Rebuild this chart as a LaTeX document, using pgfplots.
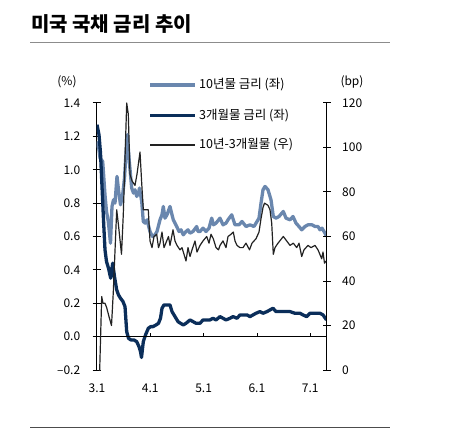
\documentclass[border=0pt]{standalone}
\usepackage{pgfplots}
\pgfplotsset{compat=1.18}
\usepackage{pgfplotstable}
\usepackage{fontspec}
\setmainfont{Noto Sans CJK KR}
\definecolor{lblue}{HTML}{6A87AE}
\definecolor{navy}{HTML}{0B2E5A}
\definecolor{spreadc}{HTML}{222222}

\pgfplotstableread{
x y
97 1.17
99 1.12
100 1.07
102.7 1.05
105 0.85
106.5 0.75
108.3 0.69
110.5 0.56
112 0.78
113.5 0.82
115 0.80
117 0.96
118.5 0.88
120.5 0.79
122.5 0.84
124.5 0.95
126 1.10
127.3 1.21
129.3 1.05
131.7 0.89
133.5 0.86
135 0.88
136.7 0.84
138.5 0.86
139.5 0.89
141.7 0.81
143.3 0.69
145 0.68
147 0.70
150 0.63
152.5 0.60
155 0.61
157 0.63
160 0.70
162 0.73
163.3 0.78
165 0.71
167 0.73
170 0.78
172 0.73
173.3 0.70
176.7 0.66
179 0.63
181 0.64
183.3 0.61
186 0.63
188 0.64
190 0.62
193 0.63
196.7 0.66
198 0.63
200 0.63
203 0.65
206 0.63
209 0.65
211.7 0.71
213.5 0.67
216 0.68
220 0.71
223 0.67
226 0.68
228 0.70
231.7 0.73
235 0.67
239 0.67
242 0.69
246 0.66
250 0.67
254 0.66
257 0.69
259 0.71
261 0.80
263 0.88
265 0.90
268 0.88
271 0.82
273.3 0.72
276 0.71
279 0.72
283.3 0.75
286 0.71
290 0.70
293 0.72
296 0.68
299 0.66
301.7 0.64
305 0.66
308 0.67
312 0.67
315 0.66
318 0.66
320 0.64
322 0.65
325 0.62
326.5 0.60
}\tenyr

\pgfplotstableread{
x y
97 1.27
99 1.21
100.5 1.10
102 0.90
103.5 0.70
105 0.52
106.5 0.45
108.5 0.41
110.7 0.35
112.7 0.44
114.5 0.36
116.7 0.28
118.5 0.25
120.5 0.23
123 0.21
125 0.18
126.7 0.03
128.5 -0.01
131 -0.02
134 -0.02
136.7 -0.03
139 -0.06
140.5 -0.09
141.5 -0.125
143.3 -0.03
145.5 0.01
148.3 0.05
150.7 0.06
153 0.06
156 0.07
158.5 0.08
160.5 0.11
162 0.17
164 0.19
167 0.19
170 0.19
172 0.15
175 0.12
178 0.09
180.5 0.08
183.3 0.07
186 0.08
190 0.10
193 0.09
196 0.08
200 0.08
203 0.10
206 0.10
210 0.10
213 0.11
216 0.10
220 0.12
223 0.11
226 0.10
230 0.11
233 0.12
237 0.11
240 0.13
243 0.13
247 0.13
250 0.12
253 0.13
256 0.14
260 0.15
263 0.14
267 0.15
270 0.16
273 0.17
276 0.15
280 0.15
285 0.15
290 0.15
295 0.14
300 0.14
303 0.13
306.7 0.12
310 0.14
315 0.14
320 0.14
323 0.13
326.5 0.10
}\threemo

\pgfplotstableread{
x y
97 -10
99.5 -3
101.7 33
103 30
105 30
106.7 28
109 24
111.5 20
113.3 35
116.7 72
118.5 65
121.5 52
123.3 70
125 95
126.7 120
128.3 115
130 88
132 85
135 83
137 88
140 98
141.7 84
143.3 72
146 72
148.3 72
150 58
152 55
154 60
156.7 61
158.5 55
160 57
162 62
164 55
166.7 58
168.5 60
170 56
173 63
175 58
177 56
180 54
182 55
184 52
186 49
188 55
190 51
192 54
195 58
197 53
200 56
203 58
206.7 60
209 57
211 61
213.3 59
216 55
218.5 54
220 56
223 58
226 55
228 60
231 61
233.3 62
235 58
237 56
240 55
243 55
246 57
249.5 54
252 57
256 59
259 62
261 68
263 73
264.5 75
268 74
270 72
271.7 66
273.3 52
275 55
278 57
283.3 60
286.7 58
290 56
293.3 57
296.7 55
299 57
301.7 51
304 54
308 56
311 55
315 56
318 54
321.7 50
323 53
324.5 48
326 49
}\spreadtab

\begin{document}
\begin{tikzpicture}[x=1pt,y=1pt]
\path[use as bounding box] (0,0) rectangle (454,431);

\pgfplotsset{every axis/.append style={
  scale only axis, width=230pt, height=267pt,
  at={(96.7pt,61pt)}, anchor=south west,
  xmin=96.7, xmax=326.7,
  tick align=center, major tick length=8pt,
  axis line style={line width=1pt, -},
  every tick/.style={black, line width=1pt},
  tick label style={font=\fontsize{12}{14}\selectfont},
  /pgf/number format/assume math mode=true,
}}

\begin{axis}[
  ymin=-0.2, ymax=1.4,
  axis y line*=left, axis x line*=bottom,
  x axis line style={draw=none},
  xtick={97,150.3,203.6,256.9,310.2},
  xticklabels={\mbox{3.1},\mbox{4.1},\mbox{5.1},\mbox{6.1},\mbox{7.1}},
  major x tick style={draw=none},
  xticklabel style={yshift=-6pt},
  ytick={-0.2,0,0.2,0.4,0.6,0.8,1.0,1.2,1.4},
  yticklabels={\mbox{–0.2},\mbox{0.0},\mbox{0.2},\mbox{0.4},\mbox{0.6},\mbox{0.8},\mbox{1.0},\mbox{1.2},\mbox{1.4}},
  yticklabel style={anchor=east, xshift=-9pt},
]
\addplot[lblue, line width=3.3pt, line join=round] table {\tenyr};
\addplot[navy, line width=3.3pt, line join=round] table {\threemo};
\draw[black, line width=1pt] (axis cs:96.7,0) -- (axis cs:326.7,0);
\draw[black, line width=0.8pt] (axis cs:150.3,0) -- (axis cs:150.3,0.02);
\draw[black, line width=0.8pt] (axis cs:203.6,0) -- (axis cs:203.6,0.02);
\draw[black, line width=0.8pt] (axis cs:256.9,0) -- (axis cs:256.9,0.02);
\draw[black, line width=0.8pt] (axis cs:310.2,0) -- (axis cs:310.2,0.02);
\end{axis}

\begin{axis}[
  ymin=0, ymax=120,
  axis y line*=right, axis x line=none,
  ytick={0,20,40,60,80,100,120},
  yticklabels={\mbox{0},\mbox{20},\mbox{40},\mbox{60},\mbox{80},\mbox{100},\mbox{120}},
  yticklabel style={anchor=west, xshift=8pt},
]
\addplot[spreadc, line width=1.2pt, line join=round] table {\spreadtab};
\end{axis}

% title and rules
\node[anchor=west, inner sep=0pt, font=\bfseries\fontsize{20}{22}\selectfont] at (31,407) {미국 국채 금리 추이};
\draw[color=black!45, line width=0.8pt] (30,388.7) -- (390,388.7);
\draw[color=black!70, line width=0.8pt] (30,4) -- (390,4);
\node[font=\fontsize{12}{14}\selectfont, inner sep=0pt] at (67,349) {(\%)};
\node[font=\fontsize{12}{14}\selectfont, inner sep=0pt] at (352,349) {(bp)};
% legend
\draw[lblue, line width=3.3pt] (150,346) -- (195,346);
\draw[navy, line width=3.3pt] (150,315.3) -- (195,315.3);
\draw[spreadc, line width=1.2pt] (150,286) -- (195,286);
\node[anchor=west, inner sep=0pt, font=\fontsize{12.5}{14}\selectfont] at (199,346) {10년물 금리 (좌)};
\node[anchor=west, inner sep=0pt, font=\fontsize{12.5}{14}\selectfont] at (199,315.3) {3개월물 금리 (좌)};
\node[anchor=west, inner sep=0pt, font=\fontsize{12.5}{14}\selectfont] at (199,286) {10년-3개월물 (우)};
\end{tikzpicture}
\end{document}
